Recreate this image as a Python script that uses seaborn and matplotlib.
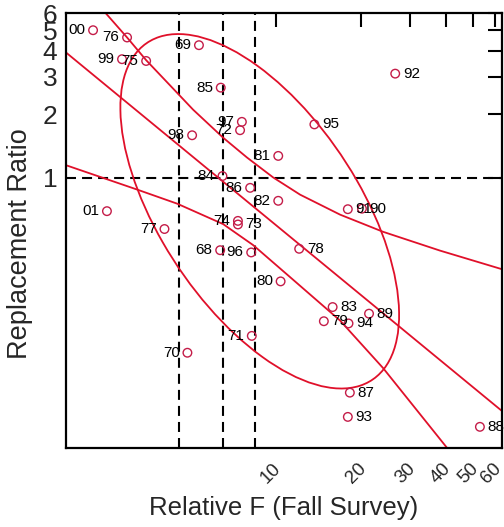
import numpy as np
import pandas as pd
import matplotlib
matplotlib.use("Agg")
import matplotlib.pyplot as plt
from matplotlib.patches import Ellipse
from matplotlib.transforms import Affine2D, ScaledTranslation
from matplotlib.ticker import FixedLocator, NullLocator
import seaborn as sns

# ---- survey years, relative F (fall survey) and replacement ratio ----
years = ["68", "69", "70", "71", "72", "73", "74", "75", "76", "77",
         "78", "79", "80", "81", "82", "83", "84", "85", "86", "87",
         "88", "89", "90", "91", "92", "93", "94", "95", "96", "97",
         "98", "99", "00", "01"]
rel_f = [6.35, 5.34, 4.86, 8.22, 7.47, 7.34, 7.34, 3.47, 2.97, 4.03,
         12.1, 14.8, 10.4, 10.2, 10.2, 15.9, 6.47, 6.38, 8.11, 18.3,
         52.9, 21.4, 20.2, 18.0, 26.5, 18.0, 18.1, 13.7, 8.18, 7.58,
         5.05, 2.85, 2.25, 2.52]
repl_ratio = [0.455, 4.24, 0.149, 0.179, 1.68, 0.602, 0.626, 3.57, 4.61, 0.573,
              0.462, 0.210, 0.324, 1.27, 0.779, 0.245, 1.02, 2.67, 0.897, 0.0965,
              0.0665, 0.228, 0.715, 0.711, 3.11, 0.0741, 0.205, 1.79, 0.444, 1.84,
              1.59, 3.64, 4.99, 0.696]
label_side = ["L", "L", "L", "L", "L", "R", "L", "L", "L", "L",
              "R", "R", "L", "L", "L", "R", "L", "L", "L", "R",
              "R", "R", "R", "R", "R", "R", "R", "R", "L", "L",
              "L", "L", "L", "L"]

# ---- fitted line and its upper / lower bands ----
fit_f = [1.80, 63.5]
fit_r = [3.925, 0.0788]
upper_f = [2.444, 2.966, 3.473, 5.093, 6.507, 7.91, 9.782, 12.19, 16.90, 23.99, 38.19, 63.86]
upper_r = [6.197, 4.62, 3.597, 2.100, 1.548, 1.247, 1.005, 0.833, 0.670, 0.556, 0.453, 0.3687]
lower_f = [1.803, 3.227, 4.471, 6.507, 8.31, 11.23, 16.90, 23.99, 40.45]
lower_r = [1.148, 0.880, 0.755, 0.6043, 0.481, 0.3396, 0.2115, 0.1262, 0.0529]

# ---- reference levels ----
f_refs = [4.55, 6.5, 8.45]
r_ref = 1.0

# ---- joint ellipse in log10 units ----
ell_center = (0.943, -0.158)
ell_sd = (0.494, 0.838)
ell_rho = -0.585

# ---- axis settings ----
x_lim = (1.80, 63.5)
y_lim = (0.053, 6.0)
x_ticks = [10, 20, 30, 40, 50, 60]
x_tick_labels = ["10", "20", "30", "40", "50", "60"]
y_ticks = [1, 2, 3, 4, 5, 6]
y_tick_labels = ["1", "2", "3", "4", "5", "6"]

line_red = "#e0102a"
point_red = "#c41c48"

sns.set_theme(style="white")
plt.rcParams["font.family"] = ["Liberation Sans", "DejaVu Sans"]

fig, ax = plt.subplots(figsize=(5.04, 5.27), dpi=100)
fig.subplots_adjust(left=0.1304, right=0.9966, bottom=0.1505, top=0.9748)
ax.set_xscale("log")
ax.set_yscale("log")
ax.set_xlim(*x_lim)
ax.set_ylim(*y_lim)

# dashed reference lines
dash = (0, (4.8, 2.9))
ax.axhline(r_ref, color="black", lw=1.5, ls=dash, zorder=1)
for f in f_refs:
    ax.axvline(f, color="black", lw=1.5, ls=dash, zorder=1)

# fitted line and bands
for xs, ys in [(fit_f, fit_r), (upper_f, upper_r), (lower_f, lower_r)]:
    sns.lineplot(x=xs, y=ys, sort=False, estimator=None, color=line_red,
                 lw=1.3, ax=ax, zorder=2)

# ellipse drawn in log10 space
cov = np.array([[ell_sd[0] ** 2, ell_rho * ell_sd[0] * ell_sd[1]],
                [ell_rho * ell_sd[0] * ell_sd[1], ell_sd[1] ** 2]])
vals, vecs = np.linalg.eigh(cov)
angle = np.degrees(np.arctan2(vecs[1, 1], vecs[0, 1]))
lx0, lx1 = np.log10(x_lim)
ly0, ly1 = np.log10(y_lim)
log_to_axes = Affine2D().translate(-lx0, -ly0).scale(1 / (lx1 - lx0), 1 / (ly1 - ly0))
ell = Ellipse(ell_center, 2 * np.sqrt(vals[1]), 2 * np.sqrt(vals[0]), angle=angle,
              fill=False, edgecolor=line_red, lw=1.3,
              transform=log_to_axes + ax.transAxes, zorder=2)
ax.add_patch(ell)

# survey points
df = pd.DataFrame({"rel_f": rel_f, "repl_ratio": repl_ratio, "year": years})
sns.scatterplot(data=df, x="rel_f", y="repl_ratio", marker="o", s=38,
                facecolors="none", edgecolor=point_red, linewidth=1.0,
                ax=ax, zorder=4)

for yr, xv, yv, side in zip(years, rel_f, repl_ratio, label_side):
    dx = 5.5 if side == "R" else -5.5
    ax.annotate(yr, (xv, yv), xytext=(dx, 0), textcoords="offset points",
                ha="left" if side == "R" else "right", va="center",
                fontsize=11, color="black", zorder=5)

# ticks and frame
ax.xaxis.set_major_locator(FixedLocator(x_ticks))
ax.xaxis.set_minor_locator(NullLocator())
ax.yaxis.set_major_locator(FixedLocator(y_ticks))
ax.yaxis.set_minor_locator(NullLocator())
ax.set_xticklabels(x_tick_labels, rotation=45)
ax.set_yticklabels(y_tick_labels)
ax.tick_params(axis="both", which="major", direction="in", length=10, width=1.5,
               top=True, right=True, color="black")
ax.tick_params(axis="x", labelsize=13.5, pad=9)
ax.tick_params(axis="y", labelsize=19, pad=6)
shift_left = ScaledTranslation(-0.045, 0, fig.dpi_scale_trans)
for lab in ax.get_xticklabels():
    lab.set_transform(lab.get_transform() + shift_left)
for sp in ax.spines.values():
    sp.set_linewidth(1.6)
    sp.set_color("black")

ax.set_xlabel("Relative F (Fall Survey)", fontsize=18.5)
ax.set_ylabel("Replacement Ratio", fontsize=19.5)
ax.xaxis.set_label_coords(0.5, -0.112)
ax.yaxis.set_label_coords(-0.075, 0.47)

fig.savefig("out.png", dpi=100)
